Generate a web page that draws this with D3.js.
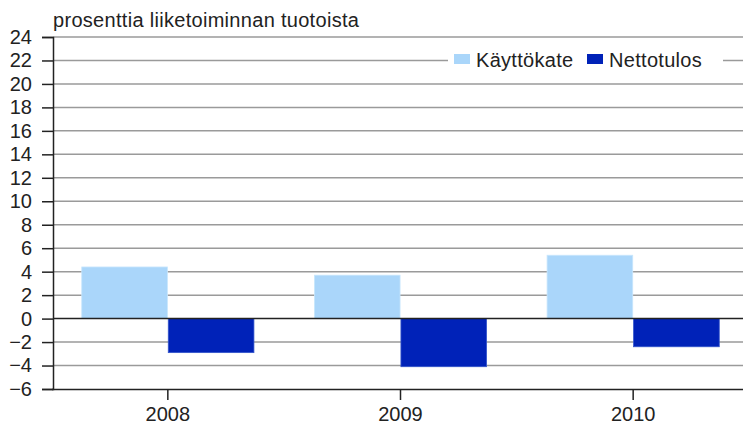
<!DOCTYPE html>
<html>
<head>
<meta charset="utf-8">
<script src="https://cdn.jsdelivr.net/npm/d3@7"></script>
<style>
  body { margin: 0; background: #fff; }
  svg { display: block; font-family: "Liberation Sans", Arial, sans-serif; }
</style>
</head>
<body>
<div id="chart"></div>
<script>
const years = ['2008', '2009', '2010'];
const seriesNames = ['Käyttökate', 'Nettotulos'];
const kayttokate = [4.4, 3.7, 5.4];
const nettotulos = [-2.9, -4.1, -2.4];
const yTicks = [-6, -4, -2, 0, 2, 4, 6, 8, 10, 12, 14, 16, 18, 20, 22, 24];
const unitLabel = 'prosenttia liiketoiminnan tuotoista';

const colors = ['#aad6fa', '#0022b8'];
const width = 743, height = 427;
const plotLeft = 53, plotTop = 37, plotBottom = 389;
const fontSize = '20px', letterSp = '0.3px';

const svg = d3.select('#chart').append('svg')
  .attr('width', width)
  .attr('height', height);

const y = d3.scaleLinear().domain([-6, 24]).range([plotBottom, plotTop]);
const x = d3.scaleBand().domain(years).range([51.5, 749.5])
  .paddingInner(0.26).paddingOuter(0.13);
const xs = d3.scaleBand().domain(seriesNames).range([0, x.bandwidth()]).paddingInner(0.01);

// gridlines
svg.append('g')
  .selectAll('line')
  .data(yTicks.filter(t => t !== 0 && t !== -6))
  .enter().append('line')
  .attr('x1', plotLeft).attr('x2', width)
  .attr('y1', d => y(d)).attr('y2', d => y(d))
  .style('stroke', '#9a9a9a')
  .style('stroke-width', '1.5px');

// bars
const rows = years.map((yr, i) => ({ year: yr, values: [kayttokate[i], nettotulos[i]] }));
const groups = svg.selectAll('.grp')
  .data(rows)
  .enter().append('g')
  .attr('transform', d => `translate(${x(d.year)},0)`);

groups.selectAll('rect')
  .data(d => d.values.map((v, j) => ({ name: seriesNames[j], v, j })))
  .enter().append('rect')
  .attr('x', d => xs(d.name))
  .attr('width', xs.bandwidth())
  .attr('y', d => y(Math.max(0, d.v)))
  .attr('height', d => Math.abs(y(d.v) - y(0)))
  .style('fill', d => colors[d.j])
  .style('stroke', d => d.j === 0 ? '#c8e6fc' : '#3355cc')
  .style('stroke-width', '0.8px');

// zero line
svg.append('line')
  .attr('x1', plotLeft).attr('x2', width)
  .attr('y1', y(0)).attr('y2', y(0))
  .style('stroke', '#222')
  .style('stroke-width', '1.5px');

// y axis
const yAxis = svg.append('g')
  .attr('transform', `translate(${plotLeft},0)`)
  .call(d3.axisLeft(y).tickValues(yTicks).tickSize(11).tickPadding(10));
yAxis.select('.domain').style('stroke', '#222').style('stroke-width', '1.5px');
yAxis.selectAll('.tick line').style('stroke', '#222').style('stroke-width', '1.5px');
yAxis.selectAll('text')
  .style('font-size', fontSize)
  .style('fill', '#222')
  .attr('font-family', null);

// x axis
const xAxis = svg.append('g')
  .attr('transform', `translate(0,${plotBottom})`)
  .call(d3.axisBottom(x).tickSize(11).tickSizeOuter(0).tickPadding(7));
xAxis.select('.domain').style('stroke', '#222').style('stroke-width', '1.5px');
xAxis.selectAll('.tick line').style('stroke', '#222').style('stroke-width', '1.5px');
xAxis.selectAll('text')
  .style('font-size', fontSize)
  .style('fill', '#222')
  .attr('font-family', null);

// unit label
svg.append('text')
  .attr('x', plotLeft)
  .attr('y', 27)
  .text(unitLabel)
  .style('font-size', fontSize)
  .style('letter-spacing', letterSp)
  .style('fill', '#222');

// legend
const legend = svg.append('g');
legend.append('rect')
  .attr('x', 448).attr('y', 49)
  .attr('width', 275).attr('height', 24)
  .style('fill', '#fff');
const legX = [454, 587];
seriesNames.forEach((name, i) => {
  legend.append('rect')
    .attr('x', legX[i]).attr('y', 54)
    .attr('width', 16).attr('height', 10)
    .style('fill', colors[i]);
  legend.append('text')
    .attr('x', legX[i] + 22).attr('y', 67)
    .text(name)
    .style('font-size', fontSize)
    .style('letter-spacing', letterSp)
    .style('fill', '#222');
});
</script>
</body>
</html>
